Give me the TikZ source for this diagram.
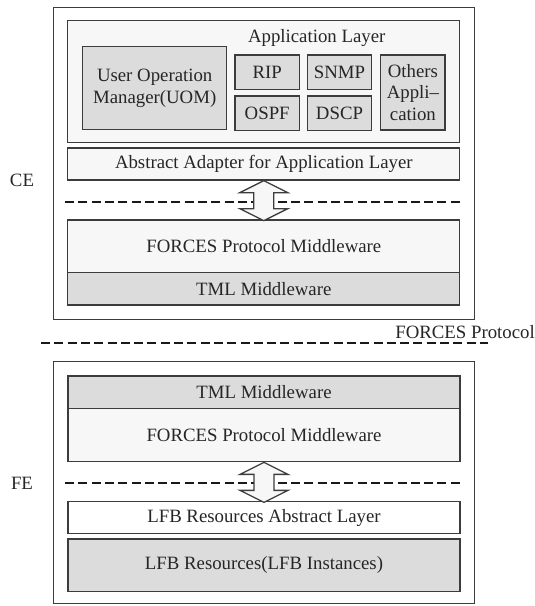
\documentclass[tikz,border=0pt]{standalone}
\usepackage{fontspec}
\setmainfont{Liberation Serif}
\definecolor{light}{HTML}{F7F7F7}
\definecolor{mid}{HTML}{DCDCDC}
\definecolor{edge}{HTML}{3C3C3C}
\tikzset{
  outer/.style={shape=rectangle, draw=edge, line width=1pt, fill=white, inner sep=0pt},
  layer/.style={shape=rectangle, draw=edge, line width=1.3pt, inner sep=0pt, minimum width=392pt, align=center},
  block/.style={shape=rectangle, draw=edge, line width=1.3pt, inner sep=0pt, fill=mid, align=center},
  app/.style={block, minimum width=64.3pt, minimum height=34.3pt},
  sepline/.style={draw=black!90, line width=2pt, dash pattern=on 9pt off 4.3pt},
  updown/.style={draw=edge, fill=light, line width=1.3pt}
}

\begin{document}
\begin{tikzpicture}[x=1pt, y=-1pt, font=\fontsize{18.8}{21.6}\selectfont, text=black!85]
    \useasboundingbox (0,0) rectangle (535,606);

    % control element
    \node at (263.7, 163.3) (CE) [outer, minimum width=420.7pt, minimum height=312pt] {};
    \node at (22, 180) (celabel) {CE};
    \node at (263.8, 81.7) (app) [layer, fill=light, minimum height=122pt] {};
    \node at (316.7, 38.3) (applabel) {Application Layer};
    \node at (154.7, 88) (uom) [block, minimum width=144pt, minimum height=82.6pt] {User Operation\\Manager(UOM)};
    \node at (267.2, 72.2) (rip) [app] {RIP};
    \node at (267.2, 113) (ospf) [app] {OSPF};
    \node at (339.5, 72.2) (snmp) [app] {SNMP};
    \node at (339.5, 113) (dscp) [app] {DSCP};
    \node at (412.9, 92.5) (others) [block, minimum width=64.3pt, minimum height=75pt] {Others\\Appli--\\cation};
    \node at (263.8, 164) (adapter) [layer, fill=light, minimum height=32pt] {Abstract Adapter for Application Layer};
    \node at (263.8, 246.3) (cepm) [layer, fill=light, minimum height=52.7pt] {FORCES Protocol Middleware};
    \node at (263.8, 288.8) (cetml) [layer, fill=mid, minimum height=32.3pt] {TML Middleware};

    \coordinate (ceL) at (65, 201.7);
    \coordinate (ceR) at (463.3, 201.7);
    \path[sepline] (ceL) -- (ceR);
    \path[updown] (adapter.south) -- ++(-24,12) -- ++(14,0) -- ++(0,16) -- ++(-14,0) -- ++(24,12)
        -- ++(24,-12) -- ++(-14,0) -- ++(0,-16) -- ++(14,0) -- cycle;

    % protocol
    \coordinate (fpL) at (41, 343);
    \coordinate (fpR) at (487.5, 343);
    \path[sepline] (fpL) -- (fpR);
    \node at (535, 332) (fplabel) [anchor=east, inner sep=0pt] {FORCES Protocol};

    % forwarding element
    \node at (263.7, 482.2) (FE) [outer, minimum width=420.7pt, minimum height=242.3pt] {};
    \node at (22, 483) (felabel) {FE};
    \node at (264, 392.2) (fetml) [layer, fill=mid, minimum height=32.3pt] {TML Middleware};
    \node at (264, 435) (fepm) [layer, fill=light, minimum height=53.4pt] {FORCES Protocol Middleware};
    \node at (264, 517.5) (lfbabs) [layer, fill=white, minimum height=31.6pt] {LFB Resources Abstract Layer};
    \node at (264, 565.3) (lfbres) [layer, fill=mid, minimum height=52.7pt] {LFB Resources(LFB Instances)};

    \coordinate (feL) at (65, 482.7);
    \coordinate (feR) at (463.3, 482.7);
    \path[sepline] (feL) -- (feR);
    \path[updown] (fepm.south) -- ++(-24,12) -- ++(14,0) -- ++(0,16) -- ++(-14,0) -- ++(24,12)
        -- ++(24,-12) -- ++(-14,0) -- ++(0,-16) -- ++(14,0) -- cycle;
\end{tikzpicture}
\end{document}
